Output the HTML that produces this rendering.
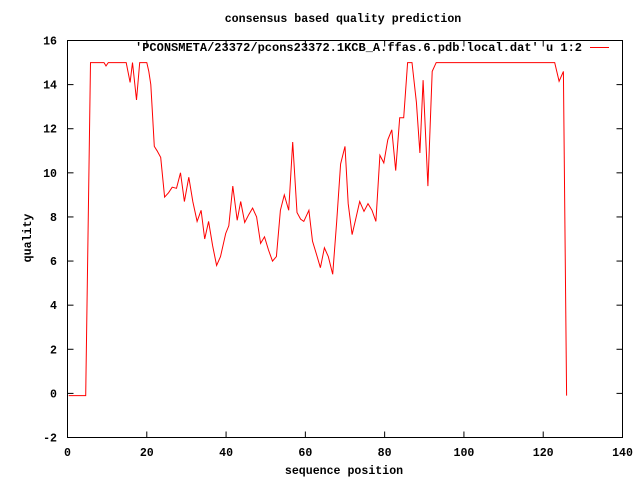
<!DOCTYPE html>
<html><head><meta charset="utf-8"><style>
body{margin:0;background:#fff}
svg text{font-family:"Liberation Mono",monospace;font-size:11.6px;font-weight:bold;fill:#000}
</style></head><body>
<svg width="640" height="480" xmlns="http://www.w3.org/2000/svg" id="c">
<rect width="640" height="480" fill="#fff"/>
<text x="343" y="22" text-anchor="middle">consensus based quality prediction</text>
<text x="344" y="474" text-anchor="middle">sequence position</text>
<text transform="translate(31,238) rotate(-90)" text-anchor="middle">quality</text>
<g id="axes"></g>
<rect x="67.5" y="40.5" width="555" height="397" fill="none" stroke="#000" stroke-width="1"/>
<text x="135" y="51" textLength="447" lengthAdjust="spacingAndGlyphs">'PCONSMETA/23372/pcons23372.1KCB_A.ffas.6.pdb.local.dat' u 1:2</text>
<line x1="590" y1="47.5" x2="609" y2="47.5" stroke="#f00" stroke-width="1"/>
<g id="plot"></g>
</svg>
<script>
const xTicks=[0,20,40,60,80,100,120,140];
const yTicks=[-2,0,2,4,6,8,10,12,14,16];
const xs=[0.3,4.6,5.8,9.2,9.7,10.3,14.8,15.8,16.4,17.4,18.2,20,20.5,21,21.5,21.9,22.6,23.5,24.5,25.5,26.4,27.5,28.5,29.5,30.6,31.6,32.7,33.7,34.6,35.6,36.6,37.6,38.6,39.9,40.7,41.7,42.8,43.7,44.7,45.7,46.7,47.7,48.7,49.7,50.7,51.7,52.7,53.7,54.7,55.8,56.8,57.9,58.8,59.6,60.9,61.8,62.8,63.8,64.8,65.8,66.9,67.9,68.9,70,70.8,71.8,72.7,73.7,74.8,75.8,76.8,77.8,78.8,79.8,80.8,81.8,82.8,83.8,84.8,85.8,86.9,88,88.9,89.7,90.9,92,93,122,122.9,124,125.1,125.9];
const ys=[-0.1,-0.1,15,15,14.85,15,15,14.1,15,13.3,15,15,14.6,14.0,12.5,11.2,11.0,10.7,8.9,9.1,9.35,9.3,10.0,8.7,9.8,8.7,7.8,8.3,7.0,7.8,6.7,5.8,6.2,7.25,7.6,9.4,7.85,8.7,7.75,8.1,8.4,8.0,6.8,7.1,6.5,6.0,6.2,8.3,9.0,8.3,11.4,8.2,7.9,7.8,8.3,6.9,6.3,5.7,6.6,6.2,5.4,7.8,10.4,11.2,8.6,7.2,7.9,8.7,8.25,8.6,8.3,7.8,10.8,10.45,11.5,11.95,10.1,12.5,12.5,15,15,13.2,10.9,14.2,9.4,14.6,15,15,15,14.15,14.6,-0.1,-0.1];
const X0=67.5,X1=622.5,Y0=437.5,Y1=40.5;
const sx=v=>X0+(v-0)/(140-0)*(X1-X0);
const sy=v=>Y0-(v+2)/(16+2)*(Y0-Y1);
const NS="http://www.w3.org/2000/svg";
const ax=document.getElementById('axes');
function mk(t,a,p){const e=document.createElementNS(NS,t);for(const k in a)e.setAttribute(k,a[k]);p.appendChild(e);return e;}
xTicks.forEach(v=>{
  const x=sx(v);
  const t1=mk('line',{x1:x,y1:Y0,x2:x,y2:Y0-6,stroke:'#000'},ax);
  
  
  const t2=mk('line',{x1:x,y1:Y1,x2:x,y2:Y1+6,stroke:'#000'},ax);
  
  
  const l=mk('text',{x:x,y:456,'text-anchor':'middle'},ax);l.textContent=v;
  
  
});
yTicks.forEach(v=>{
  const y=sy(v);
  const t1=mk('line',{x1:X0,y1:y,x2:X0+6,y2:y,stroke:'#000'},ax);
  
  
  const t2=mk('line',{x1:X1,y1:y,x2:X1-6,y2:y,stroke:'#000'},ax);
  
  
  const l=mk('text',{x:57,y:y+4,'text-anchor':'end'},ax);l.textContent=v;
  
  
});
const pl=document.getElementById('plot');
const pts=xs.map((x,i)=>sx(x).toFixed(1)+','+sy(ys[i]).toFixed(1)).join(' ');
const line=mk('polyline',{points:pts,fill:'none',stroke:'#f00','stroke-width':1},pl);


</script>
</body></html>
